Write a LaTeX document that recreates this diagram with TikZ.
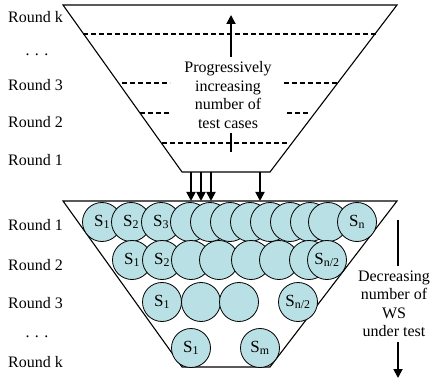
\documentclass[tikz,border=0pt]{standalone}
\usepackage{fontspec}
\setmainfont{Liberation Serif}
\usetikzlibrary{arrows.meta}
\definecolor{wsfill}{RGB}{185,224,228}
\newcommand{\ws}[1]{S\textsubscript{#1}}

\tikzset{
  wsball/.style={circle, draw, line width=0.8pt, fill=wsfill, minimum size=39pt, inner sep=0pt, font=\fontsize{17}{17}\selectfont},
  funnel/.style={line width=1.1pt},
  level/.style={line width=1.3pt, dash pattern=on 5pt off 3pt},
  flow/.style={line width=1.8pt, -{Triangle[length=9pt,width=9pt]}},
  roundlabel/.style={anchor=west, inner sep=0pt, font=\fontsize{16}{16}\selectfont},
  note/.style={fill=white, align=center, inner xsep=1pt, inner ysep=5pt, font=\fontsize{16}{18.5}\selectfont}
}

\begin{document}
\begin{tikzpicture}[x=1pt,y=-1pt]
\useasboundingbox (0,0) rectangle (431,382);
% upper funnel: test cases
\draw[funnel] (63,5) -- (397,5) -- (270,172) -- (182,172) -- cycle;
\draw[level] (83,34) -- (377,34);
\draw[level] (122,83) -- (170,83);
\draw[level] (284,83) -- (338,83);
\draw[level] (140,113) -- (170,113);
\draw[level] (287,113) -- (309,113);
\draw[level] (162,143) -- (287,143);
\draw[flow] (231,152) -- (231,15);
\node[note] (cases) at (228,95) {Progressively\\increasing\\number of\\test cases};

% test cases handed down
\foreach \x in {191,201,211,260}
  \draw[flow] (\x,172) -- (\x,201);

% lower funnel: web services
\draw[funnel] (63,201) -- (397,201) -- (270,367) -- (182,367) -- cycle;
\foreach \x/\lab [count=\i] in {102/\ws{1},131/\ws{2},161/\ws{3},190/{},210/{},230/{},250/{},270/{},290/{},310/{},328/{},357/\ws{n}}
  \node[wsball] (ra\i) at (\x,222) {\lab};
\foreach \x/\lab [count=\i] in {132/\ws{1},162/\ws{2},191/{},219/{},251/{},279/{},309/{},327/\ws{n/2}}
  \node[wsball] (rb\i) at (\x,260) {\lab};
\foreach \x/\lab [count=\i] in {162/\ws{1},201/{},239/{},298/\ws{n/2}}
  \node[wsball] (rc\i) at (\x,302) {\lab};
\foreach \x/\lab [count=\i] in {191/\ws{1},260/\ws{m}}
  \node[wsball] (rd\i) at (\x,348) {\lab};

\draw[flow] (398,220) -- (398,378);
\node[note] (ws) at (394,304) {Decreasing\\number of\\WS\\under test};

% round labels
\node[roundlabel] (uk) at (8,17) {Round k};
\node (udots) at (37,55) {\fontsize{16}{16}\selectfont . . .};
\node[roundlabel] (u3) at (8,85) {Round 3};
\node[roundlabel] (u2) at (8,122) {Round 2};
\node[roundlabel] (u1) at (8,160) {Round 1};
\node[roundlabel] (l1) at (8,225) {Round 1};
\node[roundlabel] (l2) at (8,265) {Round 2};
\node[roundlabel] (l3) at (8,303) {Round 3};
\node (ldots) at (37,337) {\fontsize{16}{16}\selectfont . . .};
\node[roundlabel] (lk) at (8,362) {Round k};
\end{tikzpicture}
\end{document}
